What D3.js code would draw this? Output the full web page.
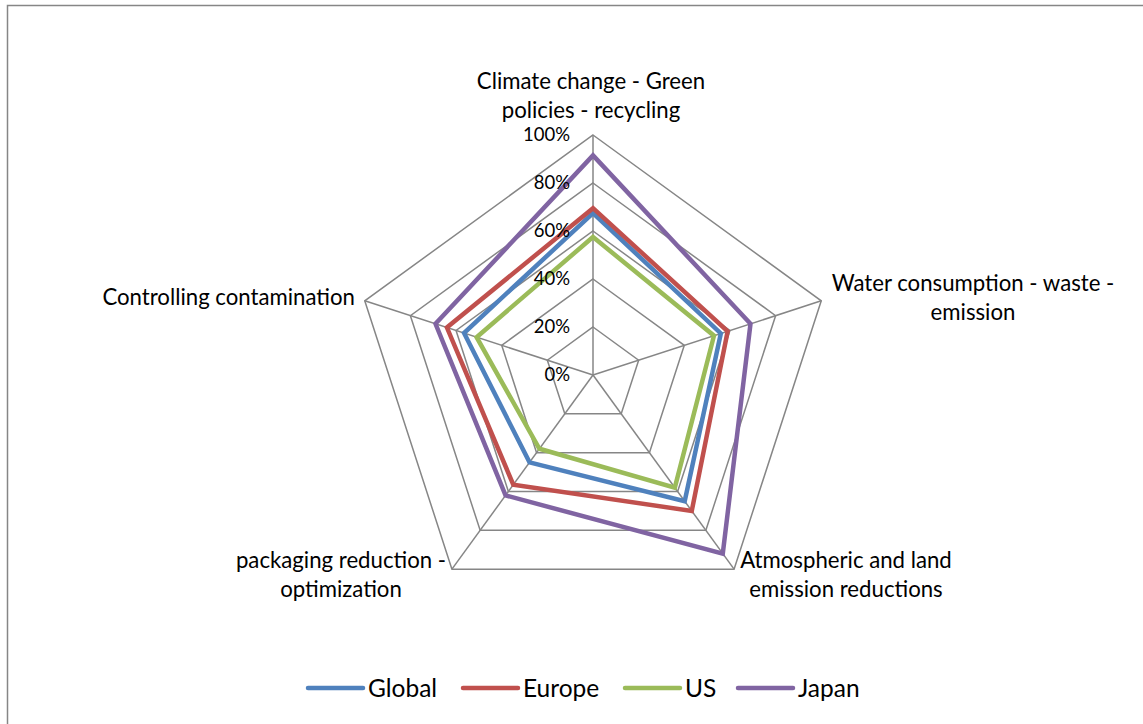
<!DOCTYPE html>
<html>
<head>
<meta charset="utf-8">
<script src="https://cdn.jsdelivr.net/npm/d3@7"></script>
<style>
  html, body { margin: 0; padding: 0; background: #fff; }
  svg { display: block; }
  text { font-family: Lato, "Open Sans", sans-serif; fill: #000; }
</style>
</head>
<body>
<svg id="chart" width="1143" height="724"></svg>
<script>
// Axes of the radar, clockwise from the top
const categories = [
  ["Climate change - Green", "policies - recycling"],
  ["Water consumption - waste -", "emission"],
  ["Atmospheric and land", "emission reductions"],
  ["packaging reduction -", "optimization"],
  ["Controlling contamination"]
];
const seriesNames = ["Global", "Europe", "US", "Japan"];
const globalValues = [0.675, 0.56, 0.65, 0.45, 0.565];
const europeValues = [0.695, 0.59, 0.70, 0.565, 0.64];
const usValues     = [0.575, 0.53, 0.58, 0.38, 0.51];
const japanValues  = [0.915, 0.69, 0.92, 0.62, 0.69];
const tickValues = [0, 0.2, 0.4, 0.6, 0.8, 1.0];
const tickLabels = ["0%", "20%", "40%", "60%", "80%", "100%"];
const colors = ["#4F81BD", "#C0504D", "#9BBB59", "#8064A2"];

const series = [globalValues, europeValues, usValues, japanValues];

const svg = d3.select("#chart");
const cx = 593, cy = 375;

// chart area frame
svg.append("rect")
  .attr("x", 7.5).attr("y", 5.5)
  .attr("width", 1160).attr("height", 740)
  .attr("fill", "none").attr("stroke", "#868686").attr("stroke-width", 1.5);

const r = d3.scaleLinear().domain([0, 1]).range([0, 240]);
const angle = d3.scaleLinear().domain([0, categories.length]).range([0, 2 * Math.PI]);

const g = svg.append("g").attr("transform", `translate(${cx},${cy})`);

const pt = (i, v) => [Math.sin(angle(i)) * r(v), -Math.cos(angle(i)) * r(v)];

// grid polygons
const radial = d3.lineRadial()
  .angle((d, i) => angle(i))
  .radius(d => r(d))
  .curve(d3.curveLinearClosed);

g.selectAll("path.grid")
  .data(tickValues.slice(1))
  .join("path")
  .attr("class", "grid")
  .attr("d", v => radial(categories.map(() => v)))
  .attr("fill", "none")
  .attr("stroke", "#868686")
  .attr("stroke-width", 1.5);

// spokes
g.selectAll("line.spoke")
  .data(categories)
  .join("line")
  .attr("class", "spoke")
  .attr("x1", 0).attr("y1", 0)
  .attr("x2", (d, i) => pt(i, 1)[0])
  .attr("y2", (d, i) => pt(i, 1)[1])
  .attr("stroke", "#868686")
  .attr("stroke-width", 1.5);

// series
g.selectAll("path.series")
  .data(series)
  .join("path")
  .attr("class", "series")
  .attr("d", d => radial(d))
  .attr("fill", "none")
  .attr("stroke", (d, i) => colors[i])
  .attr("stroke-width", 4.5)
  .attr("stroke-linejoin", "miter");

// tick labels along the vertical axis
g.selectAll("text.tick")
  .data(tickValues)
  .join("text")
  .attr("class", "tick")
  .attr("x", -23)
  .attr("y", v => -r(v))
  .attr("dy", "0.35em")
  .attr("text-anchor", "end")
  .style("font-size", "18.5px")
  .text((v, i) => tickLabels[i]);

// category labels
const labelPos = [
  { x: 591, y: 89, anchor: "middle" },
  { x: 973, y: 291, anchor: "middle" },
  { x: 846, y: 568, anchor: "middle" },
  { x: 341, y: 568, anchor: "middle" },
  { x: 355, y: 305, anchor: "end" }
];
categories.forEach((lines, i) => {
  const t = svg.append("text")
    .attr("x", labelPos[i].x)
    .attr("y", labelPos[i].y)
    .attr("text-anchor", labelPos[i].anchor)
    .style("font-size", "22.2px");
  lines.forEach((s, j) => {
    t.append("tspan").attr("x", labelPos[i].x).attr("dy", j === 0 ? 0 : 29).text(s);
  });
});

// legend
const legendX = [308, 463, 625, 738];
const legend = svg.selectAll("g.legend")
  .data(seriesNames)
  .join("g")
  .attr("class", "legend")
  .attr("transform", (d, i) => `translate(${legendX[i]},688)`);
legend.append("line")
  .attr("x1", 0).attr("x2", 55)
  .attr("y1", 0).attr("y2", 0)
  .attr("stroke", (d, i) => colors[i])
  .attr("stroke-width", 4.5)
  .attr("stroke-linecap", "round");
legend.append("text")
  .attr("x", 60).attr("y", 0).attr("dy", "0.35em")
  .style("font-size", "24.5px")
  .text(d => d);
</script>
</body>
</html>
